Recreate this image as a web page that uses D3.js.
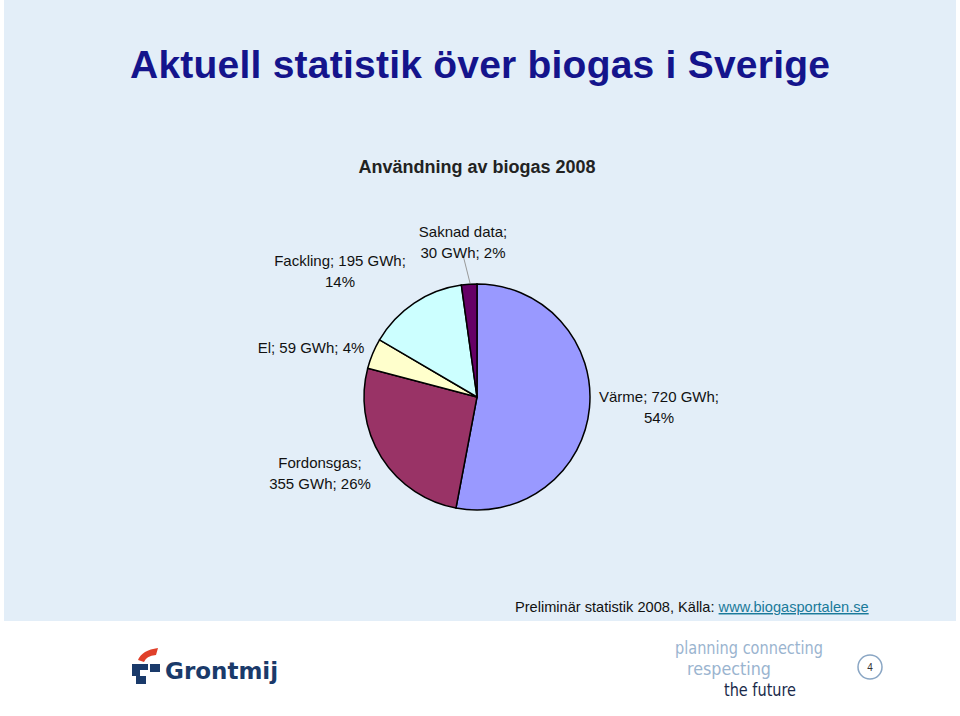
<!DOCTYPE html>
<html><head><meta charset="utf-8">
<script src="https://cdn.jsdelivr.net/npm/d3@7"></script>
<style>body{margin:0;background:#fff}</style>
</head><body>
<svg id="c" width="960" height="716"></svg>
<script>
const categories = ["Värme", "Fordonsgas", "El", "Fackling", "Saknad data"];
const gwh = [720, 355, 59, 195, 30];
const pct = ["54%", "26%", "4%", "14%", "2%"];
const colors = ["#9999ff", "#993366", "#ffffcc", "#ccffff", "#660066"];

const svg = d3.select("#c");
svg.append("rect").attr("x", 4).attr("y", 0).attr("width", 952).attr("height", 621).attr("fill", "#e3eef8");

svg.append("text").attr("x", 480).attr("y", 78).attr("text-anchor", "middle")
  .attr("font-family", "Liberation Sans, Arial").attr("font-weight", "bold").attr("font-size", 39)
  .attr("fill", "#14148c").attr("textLength", 700).text("Aktuell statistik över biogas i Sverige");
svg.append("text").attr("x", 477).attr("y", 173).attr("text-anchor", "middle")
  .attr("font-family", "Liberation Sans, Arial").attr("font-weight", "bold").attr("font-size", 18)
  .attr("fill", "#222").text("Användning av biogas 2008");

const cx = 477, cy = 397, r = 113;
const pie = d3.pie().sort(null)(gwh);
const arc = d3.arc().innerRadius(0).outerRadius(r);
const g = svg.append("g").attr("transform", `translate(${cx},${cy})`);
g.selectAll("path").data(pie).join("path").attr("d", arc)
  .attr("fill", (d, i) => colors[i]).attr("stroke", "#000").attr("stroke-width", 1.5);

// leader line for Saknad data
svg.append("path").attr("d", "M463,255 L470,283").attr("stroke", "#999").attr("fill", "none");

const labels = [
  { lines: ["Värme; 720 GWh;", "54%"], x: 659, y: 402 },
  { lines: ["Fordonsgas;", "355 GWh; 26%"], x: 320, y: 468 },
  { lines: ["El; 59 GWh; 4%"], x: 311, y: 353 },
  { lines: ["Fackling; 195 GWh;", "14%"], x: 340, y: 266 },
  { lines: ["Saknad data;", "30 GWh; 2%"], x: 463, y: 237 },
];
labels.forEach(l => {
  const t = svg.append("text").attr("text-anchor", "middle")
    .attr("font-family", "Liberation Sans, Arial").attr("font-size", 15).attr("fill", "#111");
  l.lines.forEach((s, i) => t.append("tspan").attr("x", l.x).attr("y", l.y + i * 21).text(s));
});

const src = svg.append("text").attr("x", 515).attr("y", 612)
  .attr("font-family", "Liberation Sans, Arial").attr("font-size", 14.6).attr("fill", "#111");
src.append("tspan").text("Preliminär statistik 2008, Källa: ");
src.append("tspan").attr("fill", "#1a7a9a").attr("text-decoration", "underline").text("www.biogasportalen.se");

// footer
const logo = svg.append("g");
logo.append("path").attr("d", "M138,660 Q142,650 158,648 L156,655 Q146,656 144,662 Z").attr("fill", "#e0402a");
logo.append("path").attr("d", "M132,664 L148,664 L148,670 L140,670 L140,676 L146,676 L146,684 L136,684 L136,676 L132,676 Z").attr("fill", "#1a3a6a");
logo.append("path").attr("d", "M150,664 L160,664 L160,672 L150,672 Z").attr("fill", "#1a3a6a");
svg.append("text").attr("x", 165).attr("y", 679).attr("font-family", "DejaVu Sans, sans-serif")
  .attr("font-weight", "bold").attr("font-size", 23).attr("fill", "#1a3a6a").text("Grontmij");

[["planning connecting", 675, 654, "#9ab4cf", 148], ["respecting", 687, 675, "#9ab4cf", 84], ["the future", 724, 696, "#1a2a4a", 72]]
  .forEach(([s, x, y, c, w]) => svg.append("text").attr("x", x).attr("y", y).attr("font-family", "Liberation Sans Narrow, DejaVu Sans Condensed, sans-serif")
    .attr("font-size", 18).attr("fill", c).attr("textLength", w).attr("lengthAdjust", "spacingAndGlyphs").text(s));
svg.append("circle").attr("cx", 870).attr("cy", 667).attr("r", 12).attr("fill", "none").attr("stroke", "#8aa6c4").attr("stroke-width", 1.5);
svg.append("text").attr("x", 870).attr("y", 671).attr("text-anchor", "middle").attr("font-family", "Liberation Sans").attr("font-size", 10).attr("fill", "#333").text("4");
</script>
</body></html>
